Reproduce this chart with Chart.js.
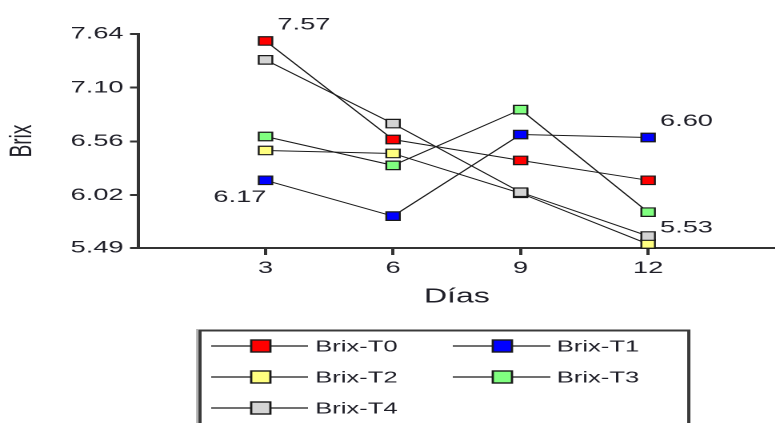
<!DOCTYPE html>
<html><head><meta charset="utf-8">
<script src="https://cdn.jsdelivr.net/npm/chart.js@4"></script>
<style>
html,body{margin:0;padding:0;background:#fff;overflow:hidden;width:775px;height:423px;}
#wrap{position:absolute;left:0;top:0;width:492px;height:423px;transform:scaleX(1.6);transform-origin:0 0;}
</style></head><body>
<div id="wrap"><canvas id="c" width="492" height="423"></canvas></div>
<script>
// ---- data ----
const days = [3, 6, 9, 12];
const yTickLabels = ['5.49', '6.02', '6.56', '7.10', '7.64'];
const seriesNames = ['Brix-T0', 'Brix-T1', 'Brix-T2', 'Brix-T3', 'Brix-T4'];
const brixT0 = [7.57, 6.58, 6.37, 6.17];
const brixT1 = [6.17, 5.81, 6.63, 6.60];
const brixT2 = [6.47, 6.44, 6.04, 5.53];
const brixT3 = [6.61, 6.32, 6.88, 5.85];
const brixT4 = [7.38, 6.74, 6.05, 5.61];
const seriesValues = [brixT0, brixT1, brixT2, brixT3, brixT4];
const markerColors = ['#ff0000', '#0000ff', '#ffff80', '#80ff80', '#d4d4d4'];
// which points carry a value label, and on which side
const valueLabels = [
  {series: 0, index: 0, side: 'upRight'},
  {series: 1, index: 0, side: 'downLeft'},
  {series: 1, index: 3, side: 'upRight'},
  {series: 2, index: 3, side: 'upRight'}
];

const FONT = "'Liberation Sans', Arial, sans-serif";
const TEXT = '#1f1f28';
const LINE = '#1a1a1a';

const sideOffsets = {upRight: [24, -16], downLeft: [-16, 17]};

const valueLabelPlugin = {
  id: 'valueLabels',
  afterDatasetsDraw(chart) {
    const ctx = chart.ctx;
    ctx.save();
    ctx.font = '17px ' + FONT;
    ctx.fillStyle = TEXT;
    ctx.textAlign = 'center';
    ctx.textBaseline = 'middle';
    valueLabels.forEach(l => {
      const pt = chart.getDatasetMeta(l.series).data[l.index];
      const off = sideOffsets[l.side];
      ctx.fillText(seriesValues[l.series][l.index].toFixed(2), pt.x + off[0], pt.y + off[1]);
    });
    ctx.restore();
  }
};

const legendPlugin = {
  id: 'boxLegend',
  afterDraw(chart) {
    const ctx = chart.ctx;
    ctx.save();
    // light outer edge on the left, dark frame
    ctx.strokeStyle = '#9a9a9a';
    ctx.lineWidth = 1;
    ctx.beginPath();
    ctx.moveTo(123.2, 329); ctx.lineTo(123.2, 430);
    ctx.stroke();
    ctx.strokeStyle = '#3a3a3a';
    ctx.lineWidth = 2;
    ctx.strokeRect(125, 330.5, 305.5, 200);
    const colLine0 = [132, 283], colLine1 = [192.5, 344], colMark = [163, 314], colText = [197, 348];
    const rows = [346, 377, 408];
    ctx.font = '16px ' + FONT;
    ctx.textBaseline = 'middle';
    ctx.textAlign = 'left';
    seriesNames.forEach((name, i) => {
      const c = i % 2, r = Math.floor(i / 2);
      const y = rows[r];
      ctx.strokeStyle = LINE;
      ctx.lineWidth = 1.2;
      ctx.beginPath();
      ctx.moveTo(colLine0[c], y);
      ctx.lineTo(colLine1[c], y);
      ctx.stroke();
      ctx.fillStyle = markerColors[i];
      ctx.fillRect(colMark[c] - 6, y - 6, 12, 12);
      ctx.lineWidth = 1.4;
      ctx.strokeRect(colMark[c] - 6, y - 6, 12, 12);
      ctx.fillStyle = TEXT;
      ctx.fillText(name, colText[c], y + 1);
    });
    ctx.restore();
  }
};

const datasets = seriesNames.map((name, i) => ({
  label: name,
  data: days.map((d, j) => ({x: d, y: seriesValues[i][j]})),
  borderColor: LINE,
  borderWidth: 1,
  pointStyle: 'rect',
  pointRadius: 6,
  pointHoverRadius: 6,
  pointBackgroundColor: markerColors[i],
  pointBorderColor: LINE,
  pointBorderWidth: 1.2,
  tension: 0,
  clip: false,
  order: 4 - i
}));

new Chart(document.getElementById('c'), {
  type: 'line',
  data: {datasets},
  options: {
    responsive: false,
    animation: false,
    devicePixelRatio: 2,
    events: [],
    layout: {padding: {left: 0, right: 0, top: 34, bottom: 115}},
    plugins: {legend: {display: false}, tooltip: {enabled: false}},
    scales: {
      x: {
        type: 'linear', min: 0, max: 15,
        afterBuildTicks: s => { s.ticks = days.map(v => ({value: v})); },
        afterFit: s => { s.height = 60; },
        grid: {drawOnChartArea: false, drawTicks: true, tickLength: 7, color: '#333', lineWidth: 2},
        border: {color: '#333', width: 2},
        ticks: {padding: 3, color: TEXT, font: {family: FONT, size: 17}, maxRotation: 0, autoSkip: false},
        title: {display: true, text: 'Días', color: TEXT, font: {family: FONT, size: 20, lineHeight: 1.1}, padding: {top: 0, bottom: 0}}
      },
      y: {
        type: 'linear', min: 5.49, max: 7.64,
        afterBuildTicks: s => { s.ticks = yTickLabels.map(v => ({value: parseFloat(v)})); },
        afterFit: s => { s.width = 86.25; },
        grid: {drawOnChartArea: false, drawTicks: true, tickLength: 5, color: '#333', lineWidth: 2},
        border: {color: '#333', width: 2},
        ticks: {padding: 4, color: TEXT, font: {family: FONT, size: 17}, autoSkip: false, callback: (v, i) => yTickLabels[i]},
        title: {display: true, text: 'Brix', color: TEXT, font: {family: FONT, size: 19, lineHeight: 1.2}, padding: {top: 3, bottom: 0}}
      }
    }
  },
  plugins: [valueLabelPlugin, legendPlugin]
});
</script>
</body></html>
